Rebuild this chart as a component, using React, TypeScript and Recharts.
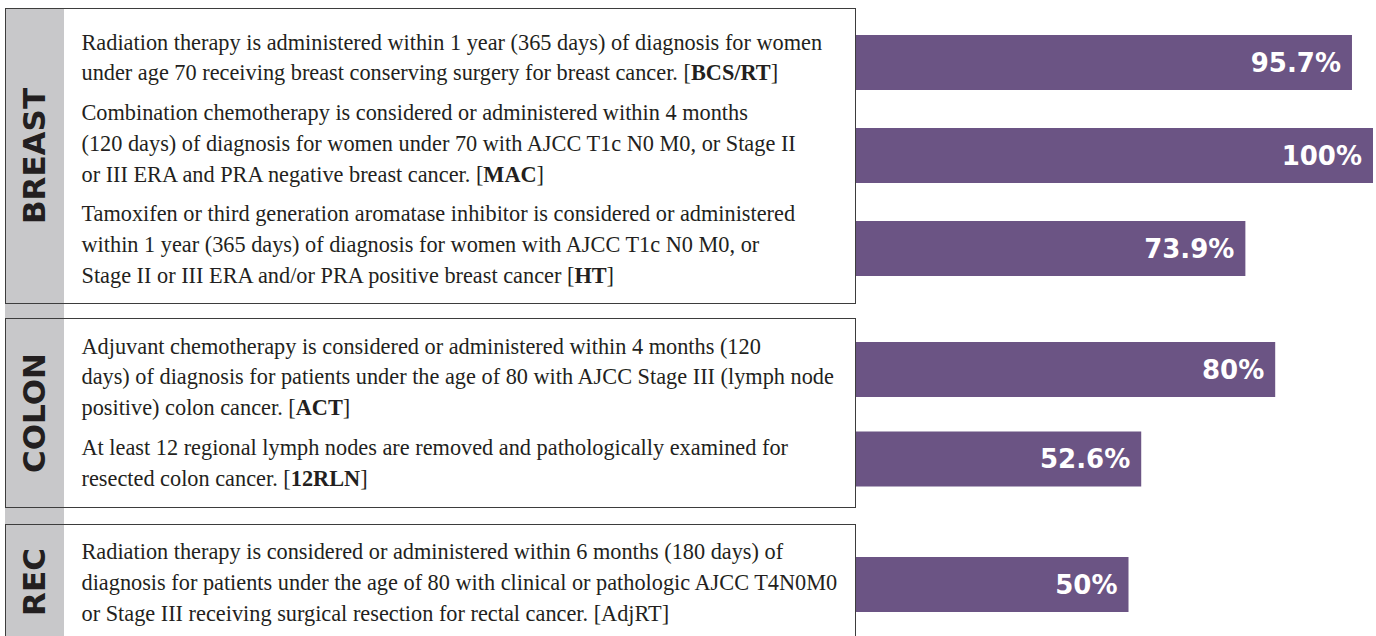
import { BarChart, Bar, XAxis, YAxis, LabelList } from 'recharts';

// measures, grouped by cancer site
const BREAST_CODES = ['BCS/RT', 'MAC', 'HT'];
const BREAST_VALUES = [95.7, 100, 73.9];
const COLON_CODES = ['ACT', '12RLN'];
const COLON_VALUES = [80, 52.6];
const REC_CODES = ['AdjRT'];
const REC_VALUES = [50];

// description lines for each measure (the code in brackets is added after the last line)
const BREAST_TEXT = [
  ['Radiation therapy is administered within 1 year (365 days) of diagnosis for women', 'under age 70 receiving breast conserving surgery for breast cancer.'],
  ['Combination chemotherapy is considered or administered within 4 months', '(120 days) of diagnosis for women under 70 with AJCC T1c N0 M0, or Stage II', 'or III ERA and PRA negative breast cancer.'],
  ['Tamoxifen or third generation aromatase inhibitor is considered or administered', 'within 1 year (365 days) of diagnosis for women with AJCC T1c N0 M0, or', 'Stage II or III ERA and/or PRA positive breast cancer'],
];
const COLON_TEXT = [
  ['Adjuvant chemotherapy is considered or administered within 4 months (120', 'days) of diagnosis for patients under the age of 80 with AJCC Stage III (lymph node', 'positive) colon cancer.'],
  ['At least 12 regional lymph nodes are removed and pathologically examined for', 'resected colon cancer.'],
];
const REC_TEXT = [
  ['Radiation therapy is considered or administered within 6 months (180 days) of', 'diagnosis for patients under the age of 80 with clinical or pathologic AJCC T4N0M0', 'or Stage III receiving surgical resection for rectal cancer.'],
];
const BOLD_CODES = ['BCS/RT', 'MAC', 'HT', 'ACT', '12RLN'];

// bars start a little left of zero (they run under the box edge)
const BAR_FLOOR = -5.73;

const PURPLE = '#6b5484';
const GREY = '#c8c8ca';
const INK = '#231f20';
const SERIF = '"Liberation Serif", "Times New Roman", serif';
const SANS = '"DejaVu Sans", Verdana, sans-serif';

const GROUPS = [
  { label: 'BREAST', codes: BREAST_CODES, values: BREAST_VALUES, text: BREAST_TEXT, boxTop: 8, boxHeight: 296, textShift: 7, chartTop: 16, chartHeight: 279 },
  { label: 'COLON', codes: COLON_CODES, values: COLON_VALUES, text: COLON_TEXT, boxTop: 318, boxHeight: 190, textShift: 0, chartTop: 325, chartHeight: 179 },
  { label: 'REC', codes: REC_CODES, values: REC_VALUES, text: REC_TEXT, boxTop: 524, boxHeight: 116, textShift: 3, chartTop: 540, chartHeight: 89 },
];

type Group = (typeof GROUPS)[number];

function GroupBox({ group }: { group: Group }) {
  return (
    <div
      style={{
        position: 'absolute',
        left: 5,
        top: group.boxTop,
        width: 851,
        height: group.boxHeight,
        boxSizing: 'border-box',
        border: '1.5px solid #3d3d3d',
      }}
    >
      <div
        style={{
          position: 'absolute',
          left: 28,
          top: '50%',
          transform: 'translate(-50%, -50%) rotate(-90deg)',
          fontFamily: SANS,
          fontWeight: 700,
          fontSize: 31,
          color: INK,
          whiteSpace: 'nowrap',
          lineHeight: 1,
        }}
      >
        {group.label}
      </div>
      <div
        style={{
          position: 'absolute',
          left: 75.5,
          right: 0,
          top: 0,
          bottom: 0,
          paddingTop: group.textShift,
          boxSizing: 'border-box',
          display: 'flex',
          flexDirection: 'column',
          justifyContent: 'center',
          gap: 9,
        }}
      >
        {group.text.map((lines, i) => {
          const code = group.codes[i];
          return (
            <p key={i} style={{ margin: 0, fontFamily: SERIF, fontSize: 22.3, lineHeight: '30.7px', color: INK, whiteSpace: 'nowrap' }}>
              {lines.map((ln, j) => (
                <span key={j}>
                  {ln}
                  {j < lines.length - 1 ? <br /> : null}
                </span>
              ))}{' '}
              [{BOLD_CODES.includes(code) ? <b>{code}</b> : code}]
            </p>
          );
        })}
      </div>
    </div>
  );
}

function GroupBars({ group }: { group: Group }) {
  const data = group.codes.map((code, i) => ({ code, value: group.values[i] }));
  return (
    <div style={{ position: 'absolute', left: 856, top: group.chartTop }}>
      <BarChart width={517} height={group.chartHeight} data={data} layout="vertical" margin={{ top: 0, right: 0, bottom: 0, left: 0 }}>
        <XAxis type="number" domain={[BAR_FLOOR, 100]} hide />
        <YAxis type="category" dataKey="code" hide />
        <Bar dataKey={(d: { value: number }) => [BAR_FLOOR, d.value]} fill={PURPLE} barSize={55} isAnimationActive={false}>
          <LabelList
            dataKey="value"
            position="insideRight"
            offset={11}
            formatter={(v: number) => `${v}%`}
            fill="#ffffff"
            style={{ fontFamily: SANS, fontWeight: 700, fontSize: 26 }}
          />
        </Bar>
      </BarChart>
    </div>
  );
}

export default function App() {
  return (
    <div style={{ position: 'absolute', left: 0, top: 0, width: 1376, height: 636, overflow: 'hidden', background: '#fff' }}>
      <div style={{ position: 'absolute', left: 5, top: 8, width: 59, height: 640, background: GREY }} />
      {GROUPS.map((g) => (
        <GroupBox key={g.label} group={g} />
      ))}
      {GROUPS.map((g) => (
        <GroupBars key={g.label} group={g} />
      ))}
    </div>
  );
}
